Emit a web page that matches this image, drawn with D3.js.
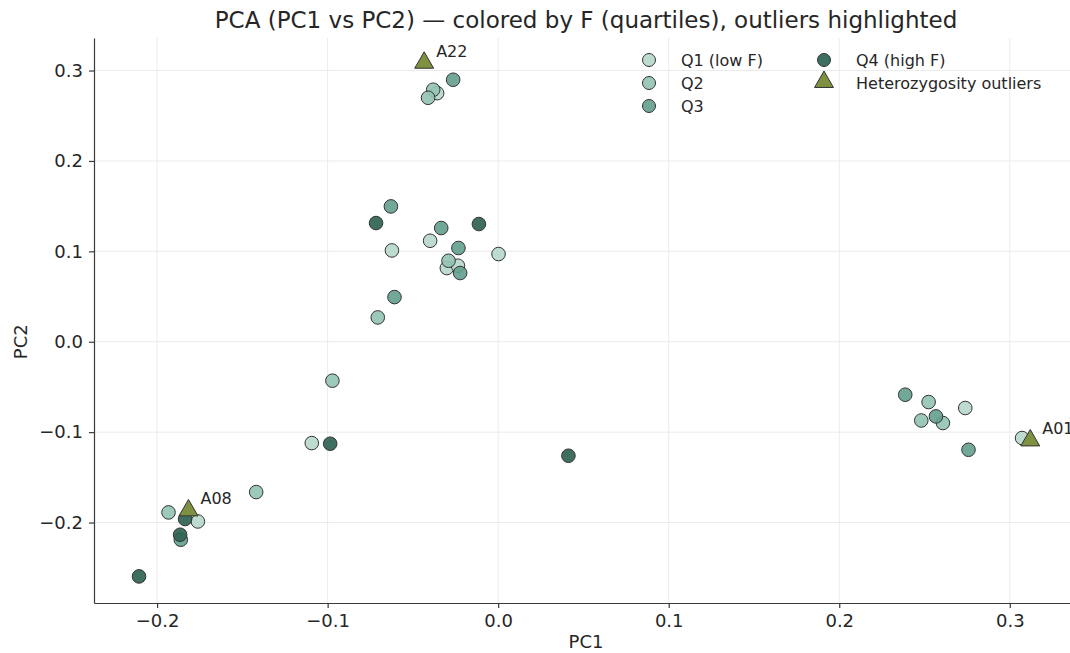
<!DOCTYPE html>
<html>
<head>
    <meta charset="utf-8">
    <title>PCA PC1 vs PC2</title>
    <script src="https://d3js.org/d3.v7.min.js"></script>
    <style>
        body { margin: 0; background: #fff; }
        text { font-family: "DejaVu Sans", sans-serif; fill: #262626; }
    </style>
</head>
<body>
    <svg width="1070" height="653"></svg>
    <script>
        // samples: PC1, PC2 and quartile of F (1 = low, 4 = high)
        var pc1 = [
            -0.0399, -0.0623, 0.0002, -0.0301, -0.0236, -0.1093, -0.1761, 0.2739, 0.3072, -0.0358,
            -0.0291, -0.0706, -0.1933, -0.1419, 0.2524, 0.2481, 0.2608, -0.0972, -0.0381, -0.0411,
            -0.0629, -0.0334, -0.0233, -0.0223, -0.0608, -0.1861, 0.2387, 0.2567, 0.2758, -0.0264,
            -0.0716, -0.0113, -0.0985, 0.0412, -0.1836, -0.1865, -0.2106
        ];
        var pc2 = [
            0.1117, 0.1010, 0.0970, 0.0815, 0.0841, -0.1121, -0.1988, -0.0733, -0.1065, 0.2750,
            0.0896, 0.0269, -0.1888, -0.1663, -0.0667, -0.0871, -0.0899, -0.0431, 0.2788, 0.2699,
            0.1497, 0.1258, 0.1037, 0.0760, 0.0494, -0.2190, -0.0586, -0.0826, -0.1195, 0.2898,
            0.1313, 0.1302, -0.1128, -0.1261, -0.1961, -0.2135, -0.2596
        ];
        var fQuartile = [
            1, 1, 1, 1, 1, 1, 1, 1, 1, 1,
            2, 2, 2, 2, 2, 2, 2, 2, 2, 2,
            3, 3, 3, 3, 3, 3, 3, 3, 3, 3,
            4, 4, 4, 4, 4, 4, 4
        ];

        // heterozygosity outliers
        var outlierIds = ["A22", "A08", "A01"];
        var outlierPc1 = [-0.0434, -0.1816, 0.3120];
        var outlierPc2 = [0.3075, -0.1877, -0.1103];

        var quartileLabels = ["Q1 (low F)", "Q2", "Q3", "Q4 (high F)"];
        var quartileColors = ["#b9d8cc", "#94c4b4", "#66a190", "#2f6354"];
        var outlierLabel = "Heterozygosity outliers";

        var xTicks = [-0.2, -0.1, 0.0, 0.1, 0.2, 0.3];
        var yTicks = [-0.2, -0.1, 0.0, 0.1, 0.2, 0.3];

        var svg = d3.select("svg");
        var mLeft = 94, mRight = 1078, mTop = 38, mBottom = 603;

        var x = d3.scaleLinear().domain([-0.237, 0.340]).range([mLeft, mRight]);
        var y = d3.scaleLinear().domain([-0.289, 0.336]).range([mBottom, mTop]);
        var fmt = d3.format(".1f");

        // grid
        svg.append("g").selectAll("line")
            .data(xTicks).enter().append("line")
            .attr("x1", d => x(d)).attr("x2", d => x(d))
            .attr("y1", mTop).attr("y2", mBottom)
            .attr("stroke", "#ebebeb").attr("stroke-width", 1);
        svg.append("g").selectAll("line")
            .data(yTicks).enter().append("line")
            .attr("x1", mLeft).attr("x2", mRight)
            .attr("y1", d => y(d)).attr("y2", d => y(d))
            .attr("stroke", "#ebebeb").attr("stroke-width", 1);

        // axes
        var xAxis = svg.append("g")
            .attr("transform", "translate(0," + mBottom + ")")
            .call(d3.axisBottom(x).tickValues(xTicks).tickFormat(fmt).tickSize(5).tickSizeOuter(0).tickPadding(6));
        var yAxis = svg.append("g")
            .attr("transform", "translate(" + mLeft + ",0)")
            .call(d3.axisLeft(y).tickValues(yTicks).tickFormat(fmt).tickSize(5).tickSizeOuter(0).tickPadding(6));
        [xAxis, yAxis].forEach(function (g) {
            g.selectAll("path, line").attr("stroke", "#3a3a3a").attr("stroke-width", 1.2);
            g.selectAll("text").style("font-size", "18px").attr("fill", "#262626");
        });

        // points
        var idx = d3.range(pc1.length);
        svg.append("g").selectAll("circle")
            .data(idx).enter().append("circle")
            .attr("cx", i => x(pc1[i]))
            .attr("cy", i => y(pc2[i]))
            .attr("r", 6.8)
            .attr("fill", i => quartileColors[fQuartile[i] - 1])
            .attr("fill-opacity", 0.92)
            .attr("stroke", "#333")
            .attr("stroke-width", 1);

        var tri = d3.symbol().type(d3.symbolTriangle).size(155);
        svg.append("g").selectAll("path")
            .data(outlierIds).enter().append("path")
            .attr("d", tri)
            .attr("transform", (d, i) => "translate(" + x(outlierPc1[i]) + "," + (y(outlierPc2[i]) - 1) + ")")
            .attr("fill", "#7d9141")
            .attr("stroke", "#333")
            .attr("stroke-width", 1);

        svg.append("g").selectAll("text")
            .data(outlierIds).enter().append("text")
            .attr("x", (d, i) => x(outlierPc1[i]) + 12)
            .attr("y", (d, i) => y(outlierPc2[i]) - 7)
            .style("font-size", "16px")
            .text(d => d);

        // legend
        var legend = svg.append("g");
        var legendItems = quartileLabels.map(function (q, i) {
            return { label: q, color: quartileColors[i], shape: "circle" };
        });
        legendItems.push({ label: outlierLabel, color: "#7d9141", shape: "triangle" });
        legendItems.forEach(function (d, i) {
            var col = i < 3 ? 0 : 1;
            var row = i < 3 ? i : i - 3;
            var mx = col === 0 ? 649 : 824;
            var my = 60 + row * 23;
            if (d.shape === "circle") {
                legend.append("circle")
                    .attr("cx", mx).attr("cy", my).attr("r", 6.5)
                    .attr("fill", d.color).attr("fill-opacity", 0.92)
                    .attr("stroke", "#333").attr("stroke-width", 1);
            } else {
                legend.append("path")
                    .attr("d", tri)
                    .attr("transform", "translate(" + mx + "," + (my - 1) + ")")
                    .attr("fill", d.color)
                    .attr("stroke", "#333").attr("stroke-width", 1);
            }
            legend.append("text")
                .attr("x", mx + 32).attr("y", my + 5.5)
                .style("font-size", "16px")
                .text(d.label);
        });

        // titles
        svg.append("text")
            .attr("x", (mLeft + mRight) / 2).attr("y", 28)
            .attr("text-anchor", "middle")
            .style("font-size", "23px")
            .text("PCA (PC1 vs PC2) \u2014 colored by F (quartiles), outliers highlighted");
        svg.append("text")
            .attr("x", (mLeft + mRight) / 2).attr("y", 648)
            .attr("text-anchor", "middle")
            .style("font-size", "18px")
            .text("PC1");
        svg.append("text")
            .attr("transform", "translate(27," + y(0) + ") rotate(-90)")
            .attr("text-anchor", "middle")
            .style("font-size", "18px")
            .text("PC2");
    </script>
</body>
</html>
